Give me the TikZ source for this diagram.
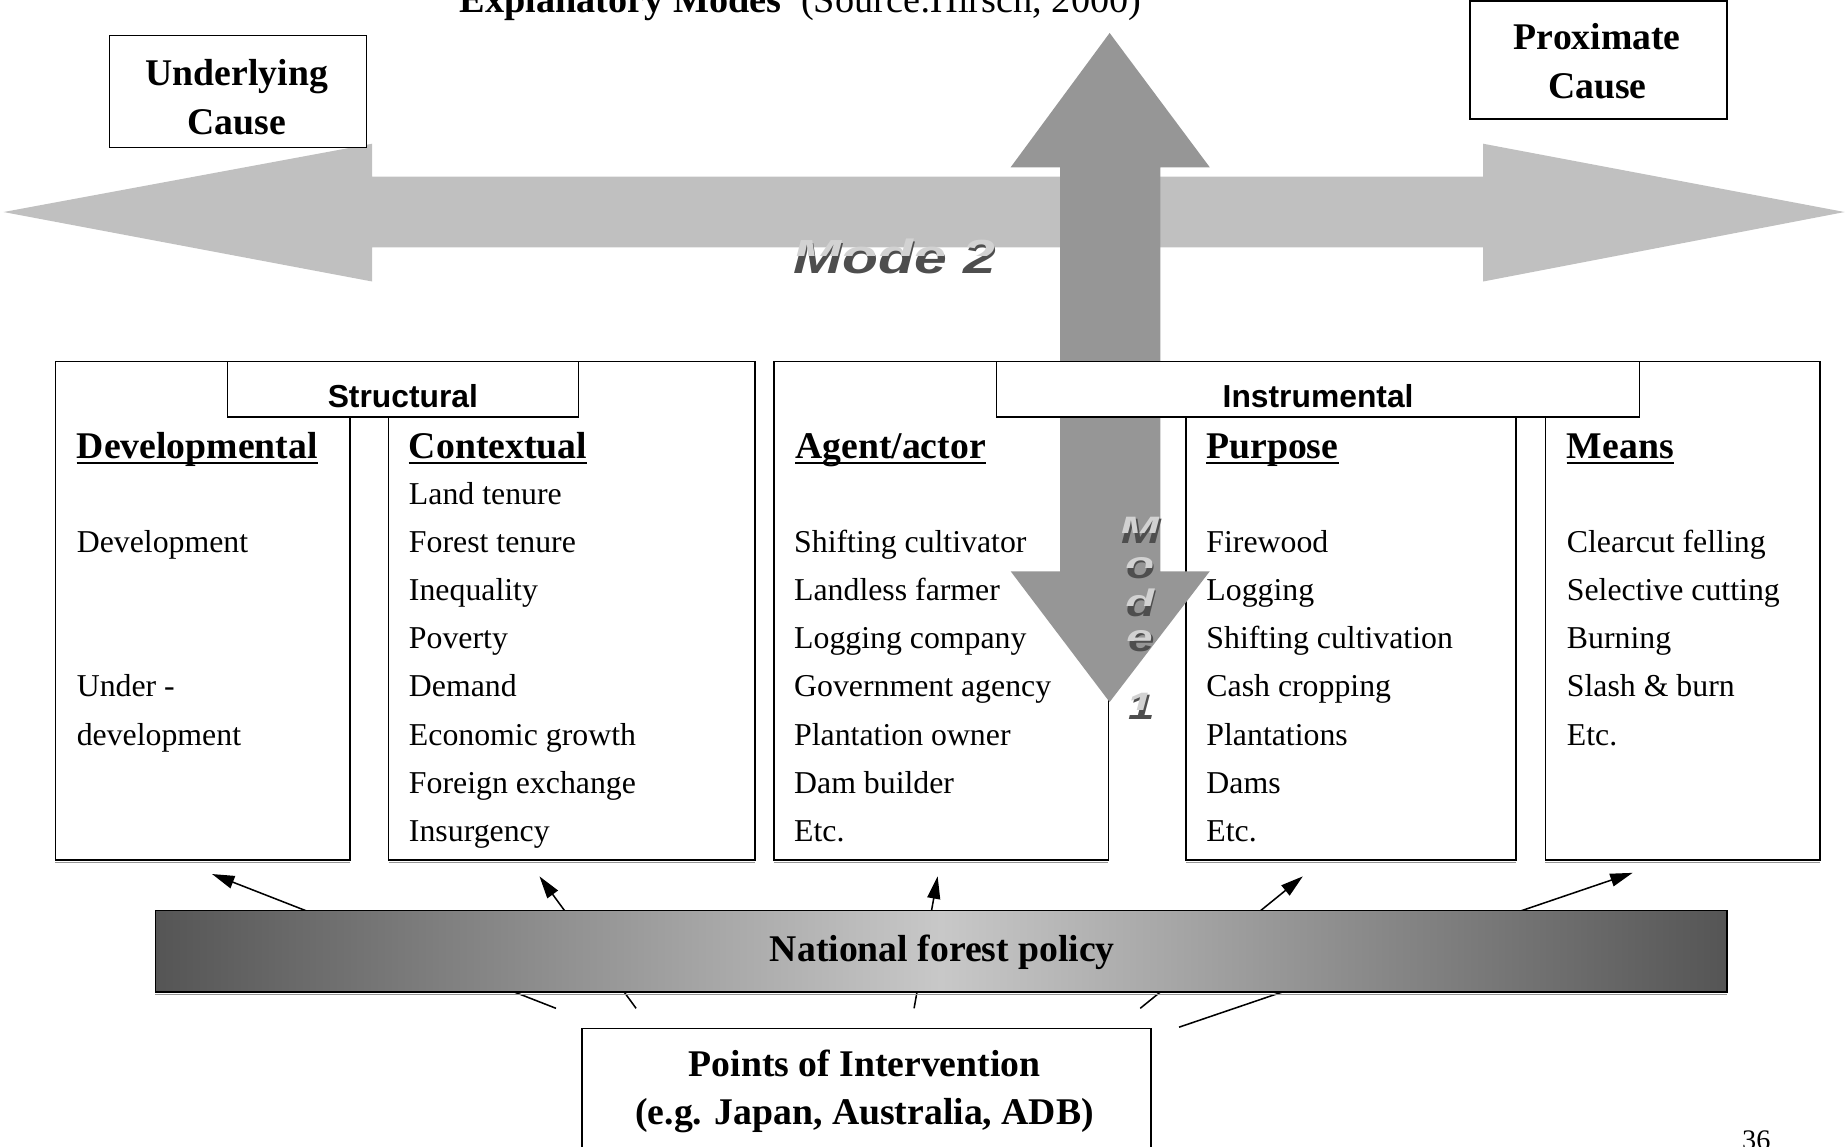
\documentclass[tikz,border=0pt]{standalone}
\usepackage{fontspec}
\setmainfont{Liberation Serif}
\newfontfamily\headsans{Liberation Sans}
\usetikzlibrary{arrows.meta}

\definecolor{hbar}{RGB}{192,192,192}
\definecolor{vbar}{RGB}{150,150,150}
\definecolor{barDark}{RGB}{85,85,85}
\definecolor{barLight}{RGB}{200,200,200}
\definecolor{modeDark}{RGB}{78,78,78}
\definecolor{modeLight}{RGB}{210,210,210}
\definecolor{shadowgray}{RGB}{150,150,150}

\newcommand\boldbig{\fontsize{32}{41}\selectfont\bfseries}
\newcommand\itemfont{\fontsize{27}{41}\selectfont}
\newcommand\labelfont{\headsans\fontsize{27}{30}\selectfont\bfseries}
\newcommand\modefont{\headsans\bfseries\itshape}

\begin{document}
\begin{tikzpicture}[x=1pt,y=-1pt,
  frame/.style={draw=black,line width=1.2pt,fill=white,inner sep=0pt,outer sep=0pt,anchor=north west},
  headtext/.style={font=\boldbig,anchor=base west,inner sep=0pt},
  itemtext/.style={font=\itemfont,anchor=base west,inner sep=0pt},
  centertext/.style={font=\boldbig,anchor=base,inner sep=0pt},
  sanslabel/.style={font=\labelfont,anchor=base,inner sep=0pt},
  shadowline/.style={draw=shadowgray,line width=1pt},
  uline/.style={line width=1.6pt},
  pointer/.style={line width=1.3pt,-{Triangle[length=19pt,width=11pt]}},
  modeshadow/.style={text=modeDark,inner sep=0pt,anchor=base},
  modeface/.style={text=modeLight,inner sep=0pt,anchor=base},
]
\useasboundingbox (0,0) rectangle (1568,973);

% title line (runs off the top edge)
\node[anchor=base west,inner sep=0pt,font=\fontsize{32.5}{36}\selectfont] (title) at (390,11)
  {\textbf{Explanatory Modes}\ \ (Source:Hirsch, 2000)};

% horizontal double arrow: underlying <-> proximate
\fill[hbar] (3,180) -- (316,122) -- (316,150) -- (1259,150) -- (1259,122) -- (1566,180)
  -- (1259,239) -- (1259,210) -- (316,210) -- (316,239) -- cycle;

% cause boxes
\node[frame,minimum width=218,minimum height=95] (under) at (93,30) {};
\node[centertext] (under1) at (201,73) {Underlying};
\node[centertext] (under2) at (201,114) {Cause};
\node[frame,minimum width=218,minimum height=100] (prox) at (1248,1) {};
\node[centertext] (prox1) at (1356,42) {Proximate};
\node[centertext] (prox2) at (1356,84) {Cause};

% five column boxes
\node[frame,minimum width=250,minimum height=423] (dev) at (47,307) {};
\node[frame,minimum width=311,minimum height=423] (ctx) at (330,307) {};
\node[frame,minimum width=284,minimum height=423] (agt) at (657,307) {};
\node[frame,minimum width=280,minimum height=423] (pur) at (1007,307) {};
\node[frame,minimum width=233,minimum height=423] (mea) at (1312,307) {};
\foreach \b in {dev,ctx,agt,pur,mea}
  \draw[shadowline] ([yshift=-2.2pt]\b.south west) -- ([yshift=-2.2pt]\b.south east);

% vertical double arrow (Mode 1 / Mode 2 axis)
\fill[vbar] (942,28) -- (1027,142) -- (985,142) -- (985,485) -- (1027,485) -- (942,596)
  -- (858,485) -- (900,485) -- (900,142) -- (858,142) -- cycle;

% group labels
\node[frame,minimum width=298,minimum height=47] (struct) at (193,307) {};
\node[sanslabel] (structt) at (342,346) {Structural};
\node[frame,minimum width=546,minimum height=47] (instr) at (846,307) {};
\node[sanslabel] (instrt) at (1119,346) {Instrumental};

% column headings
\foreach \n/\x/\t in {hdev/65/Developmental,hctx/347/Contextual,hagt/675/Agent\slash actor,hpur/1024/Purpose,hmea/1330/Means}{
  \node[headtext] (\n) at (\x,389) {\t};
  \draw[uline] ([yshift=-4pt]\n.base west) -- ([yshift=-4pt]\n.base east);
}

% column entries (row r has its baseline at 428 + 40.9(r-1))
\foreach \r/\t in {2/Development,5/Under -,6/development}
  \node[itemtext] (dev-\r) at (65,{428+40.9*(\r-1)}) {\t};
\foreach \t [count=\r] in {Land tenure,Forest tenure,Inequality,Poverty,Demand,Economic growth,Foreign exchange,Insurgency}
  \node[itemtext] (ctx-\r) at (347,{428+40.9*(\r-1)}) {\t};
\foreach \r/\t in {2/Shifting cultivator,3/Landless farmer,4/Logging company,5/Government agency,6/Plantation owner,7/Dam builder,8/Etc.}
  \node[itemtext] (agt-\r) at (674,{428+40.9*(\r-1)}) {\t};
\foreach \r/\t in {2/Firewood,3/Logging,4/Shifting cultivation,5/Cash cropping,6/Plantations,7/Dams,8/Etc.}
  \node[itemtext] (pur-\r) at (1024,{428+40.9*(\r-1)}) {\t};
\foreach \r/\t in {2/Clearcut felling,3/Selective cutting,4/Burning,5/Slash \& burn,6/Etc.}
  \node[itemtext] (mea-\r) at (1330,{428+40.9*(\r-1)}) {\t};

% "Mode 2" lettering on the horizontal axis
\node[modeshadow,font=\modefont\fontsize{37}{37}\selectfont,xscale=1.35] (m2s) at (760,232) {Mode 2};
\begin{scope}
  \clip (600,150) rectangle (900,217);
  \node[modeface,font=\modefont\fontsize{37}{37}\selectfont,xscale=1.35] (m2f) at (758.5,230) {Mode 2};
\end{scope}

% "Mode 1" lettering stacked down the vertical axis
\foreach \l/\yy [count=\k] in {M/461,o/491,d/523,e/553,1/611}{
  \node[modeshadow,font=\modefont\fontsize{30}{30}\selectfont,xscale=1.35] (m1s-\k) at (969,\yy) {\l};
  \begin{scope}
    \clip (930,\yy-40) rectangle (1010,\yy-9);
    \node[modeface,font=\modefont\fontsize{30}{30}\selectfont,xscale=1.35] (m1f-\k) at (967.5,\yy-1.5) {\l};
  \end{scope}
}

% intervention pointers (pass behind the policy bar)
\coordinate (s1) at (472,856); \coordinate (t1) at (180,742);
\coordinate (s2) at (540,856); \coordinate (t2) at (458,744);
\coordinate (s3) at (776,856); \coordinate (t3) at (796,744);
\coordinate (s4) at (968,856); \coordinate (t4) at (1106,744);
\coordinate (s5) at (1001,872); \coordinate (t5) at (1386,741);
\foreach \i in {1,...,5}
  \draw[pointer] (s\i) -- (t\i);

% national forest policy bar
\node[anchor=north west,minimum width=1334,minimum height=69,inner sep=0pt,outer sep=0pt,
      draw=black,line width=1.5pt,left color=barDark,right color=barDark,middle color=barLight] (nfp) at (132,773) {};
\draw[shadowline] ([yshift=-2.5pt]nfp.south west) -- ([yshift=-2.5pt]nfp.south east);
\node[centertext] (nfpt) at (800,816) {National forest policy};

% points of intervention
\node[frame,minimum width=483,minimum height=102] (poi) at (494,873) {};
\node[centertext] (poi1) at (734,914) {Points of Intervention};
\node[centertext] (poi2) at (734,955) {(e.g. Japan, Australia, ADB)};

% page number
\node[anchor=base,inner sep=0pt,font=\fontsize{24}{24}\selectfont] (pagenum) at (1491,976) {36};
\end{tikzpicture}
\end{document}
